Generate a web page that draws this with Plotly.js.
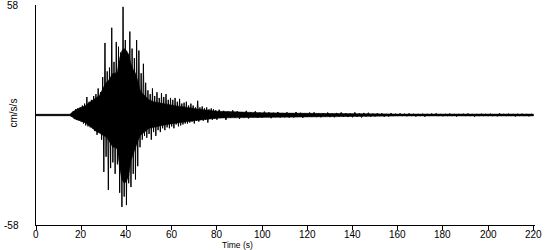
<!DOCTYPE html>
<html>
<head>
<meta charset="utf-8">
<script src="https://cdn.plot.ly/plotly-3.0.1.min.js"></script>
<style>html,body{margin:0;padding:0;background:#fff;}#chart{width:550px;height:250px;}</style>
</head>
<body>
<div id="chart"></div>
<script>
// Quiet pre-event record (time s, acceleration cm/s/s)
const quietTime = [0];
const quietValues = [0];

const strongStart = 15;
const strongStep = 0.5;
const strongValues = [
  0, 0.5, -1, 2, -2, 3, -2.5, 3.5, -3, 4,
  -3.5, 5, -4.5, 6, -5.5, 9.5, -6, 7, -6.5, 8,
  -7, 10, -8.5, 11, -10.5, 14, -9, 12, -13, 20,
  -30, 38, -22, 23, -39.5, 25, -28, 46, -25, 28,
  -31, 38.5, -26, 36, -41, 33, -48.5, 57, -43, 39.5,
  -47.5, 32, -36, 44, -38, 35, -31, 30, -34, 39.5,
  -27, 34, -17, 22, -13, 27, -11, 17, -12, 13,
  -10, 11, -13, 14, -9, 10, -11, 12, -8, 9,
  -9, 11.5, -7, 9.5, -8, 11, -6.5, 8, -7, 9,
  -6, 8, -7, 9, -5, 7, -6, 8.5, -5.5, 6,
  -5, 6.5, -4.5, 7, -4.5, 5, -4, 6, -3.5, 5,
  -4.5, 4, -3, 7.5, -3.5, 4, -2.5, 4.5, -3, 3.5,
  -2.5, 4, -4, 3, -2, 3.5, -2.5, 3, -2, 2.5
];

const codaStart = 80;
const codaStep = 1;
const codaValues = [
  -2.5, 2.8, -1.5, 2.2, -2.6, 1.8, -1.6, 2.5, -1.4, 2,
  -2, 1.6, -1.3, 2.2, -1.8, 1.4, -1.2, 2, -1.6, 1.3,
  -1.4, 1.8, -1, 1.5, -1.7, 1.2, -1.1, 1.6, -1.3, 1.1,
  -1.2, 1.5, -1.4, 1, -1.3, 1.6, -0.9, 1.2, -1.5, 1,
  -1, 1.3, -0.8, 1.4, -1.1, 0.9, -1.2, 1, -0.8, 1.3,
  -1.1, 0.8, -1.2, 1.1, -0.8, 1.4, -0.9, 1, -1.1, 0.8,
  -1.2, 1.4, -1, 0.8, -1.3, 1.1, -0.8, 1.2, -0.9, 0.8,
  -0.8, 1, -0.6, 0.9, -0.9, 0.6, -0.8, 1, -0.6, 0.7,
  -0.6, 0.9, -0.6, 0.7, -0.7, 0.9, -0.5, 0.6, -0.8, 0.6,
  -0.6, 0.7, -0.9, 0.6, -0.6, 0.8, -0.5, 0.9, -0.6, 0.6,
  -0.7, 0.6, -0.5, 0.8, -0.6, 0.6, -0.8, 0.6, -0.5, 0.7,
  -0.6, 0.8, -0.6, 0.6, -0.9, 0.6, -0.6, 0.7, -0.5, 0.6,
  -0.6, 0.7, -0.6, 0.5, -0.7, 0.9, -0.5, 0.6, -0.6, 0.7,
  -0.6, 0.6, -0.8, 0.6, -0.5, 0.7, -0.6, 0.6, -0.7, 0.5, 0
];

// Dense (solid black) core of the record: envelope
const envTime  = [0, 15, 16, 17, 18, 19, 20, 21, 22, 23, 24, 25, 26, 27, 28, 29, 30, 31, 32, 33, 34,
                  35, 36, 37, 38, 39, 40, 41, 42, 43, 44, 45, 46, 47, 48, 49, 50, 52, 54, 56, 58,
                  60, 62, 64, 66, 68, 70, 72, 74, 76, 78, 80, 85, 90, 95, 100, 110, 120, 130, 140, 150,
                  160, 220];
const envUpper = [0.4, 0.4, 1.5, 2.5, 3, 3.5, 4, 4.5, 5, 6, 7, 8, 9, 9.5, 10, 13, 15, 17, 18, 20, 22,
                  22, 23, 30, 34, 35, 34, 32, 27, 24, 22, 18, 13, 11.5, 10.5, 9, 8, 7, 6.5, 6, 5.5,
                  5, 4.8, 4.5, 4, 3.7, 3.4, 3, 2.7, 2.4, 2.2, 2, 1.8, 1.5, 1.3, 1.2, 1, 0.9, 0.8, 0.7, 0.6,
                  0.5, 0.5];
const envLower = [-0.4, -0.4, -1, -2, -2.5, -2.8, -3.2, -3.8, -4.2, -5, -6, -7, -8, -9, -9.5, -10, -11, -11.5, -13, -15, -17,
                  -17, -18, -28, -34, -36, -35, -32, -24, -20, -17, -14, -11, -9.5, -9, -8, -7, -6.5, -6, -5.5, -5,
                  -4.5, -4.2, -4, -3.6, -3.3, -3, -2.7, -2.4, -2.1, -1.9, -1.7, -1.5, -1.3, -1.1, -1, -0.9, -0.8, -0.7, -0.7, -0.6,
                  -0.5, -0.5];

const xTickValues = [0, 20, 40, 60, 80, 100, 120, 140, 160, 180, 200, 220];
const yLimitLabels = ["58", "-58"];
const yLimitValues = [58, -58];
const xTitle = "Time (s)";
const yTitle = "cm/s/s";

const t = [], a = [];
quietTime.forEach((v, i) => { t.push(v); a.push(quietValues[i]); });
strongValues.forEach((v, i) => { t.push(strongStart + i * strongStep); a.push(v); });
codaValues.forEach((v, i) => { t.push(codaStart + i * codaStep); a.push(v); });

const coreX = envTime.concat(envTime.slice().reverse());
const coreY = envUpper.concat(envLower.slice().reverse());

const font = {family: 'Arial, "Liberation Sans", sans-serif', size: 10, color: '#000'};
const titleFont = {family: 'Arial, "Liberation Sans", sans-serif', size: 8.5, color: '#000'};
const L = 36, R = 15, T = 5, B = 25, W = 550, H = 250;
const pw = W - L - R, ph = H - T - B;
const px = x => (x - L) / pw;
const py = y => (H - B - y) / ph;

const annotations = yLimitLabels.map((s, i) => ({
  text: s, xref: 'paper', yref: 'y', x: px(20), y: yLimitValues[i],
  xanchor: 'right', yanchor: 'middle', showarrow: false, font: font, borderpad: 0
}));
xTickValues.forEach(v => annotations.push({
  text: String(v), xref: 'x', yref: 'paper', x: v, y: py(234.5),
  xanchor: 'center', yanchor: 'middle', showarrow: false, font: font, borderpad: 0
}));
annotations.push({text: yTitle, xref: 'paper', yref: 'paper', x: px(12.5), y: py(113),
  xanchor: 'center', yanchor: 'middle', textangle: -90, showarrow: false, font: font, borderpad: 0});
annotations.push({text: xTitle, xref: 'paper', yref: 'paper', x: px(237), y: py(245),
  xanchor: 'center', yanchor: 'middle', showarrow: false, font: titleFont, borderpad: 0});

Plotly.newPlot('chart', [
  {x: coreX, y: coreY, type: 'scatter', mode: 'lines', fill: 'toself',
   fillcolor: '#000', line: {color: '#000', width: 0.5}, hoverinfo: 'none'},
  {x: t, y: a, type: 'scatter', mode: 'lines',
   line: {color: '#000', width: 1}, hoverinfo: 'none'}
], {
  width: W, height: H,
  margin: {l: L, r: R, t: T, b: B, pad: 0},
  paper_bgcolor: '#fff', plot_bgcolor: '#fff',
  showlegend: false,
  font: font,
  xaxis: {
    range: [0, 220.7], tickvals: xTickValues, showticklabels: false,
    ticks: 'outside', ticklen: 4,
    tickcolor: '#000', tickwidth: 1, showline: true, linecolor: '#000', linewidth: 1,
    showgrid: false, zeroline: false, fixedrange: true
  },
  yaxis: {
    range: [-58, 58], showticklabels: false, ticks: '', showline: true,
    linecolor: '#000', linewidth: 1, showgrid: false, zeroline: false, fixedrange: true
  },
  annotations: annotations
}, {staticPlot: true});
</script>
</body>
</html>
